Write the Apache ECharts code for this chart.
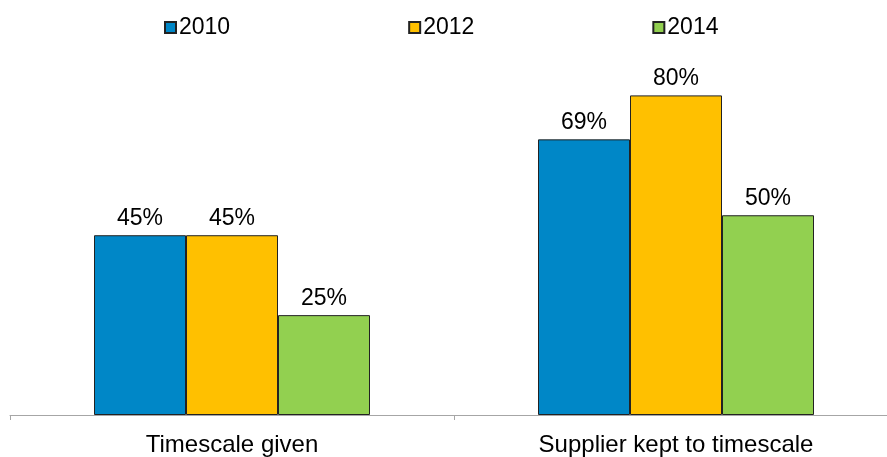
<!DOCTYPE html>
<html>
<head>
<meta charset="utf-8">
<script src="https://cdn.jsdelivr.net/npm/echarts@6/dist/echarts.min.js"></script>
<style>html,body{margin:0;padding:0;background:#fff;overflow:hidden;width:887px;height:457px;}#chart{width:900px;height:457px;}</style>
</head>
<body>
<div id="chart"></div>
<script>
const categories = ['Timescale given', 'Supplier kept to timescale'];
const seriesNames = ['2010', '2012', '2014'];
const values2010 = [45, 69];
const values2012 = [45, 80];
const values2014 = [25, 50];
const colors = ['#0087C7', '#FFC000', '#92D050'];

const font = "'Liberation Sans', Arial, sans-serif";
const dataSets = [values2010, values2012, values2014];

const chart = echarts.init(document.getElementById('chart'), null, {renderer: 'canvas'});
chart.setOption({
  animation: false,
  backgroundColor: '#fff',
  textStyle: {fontFamily: font},
  legend: {
    top: 11,
    left: 159,
    itemWidth: 11,
    itemHeight: 11,
    itemGap: 178,
    icon: 'rect',
    textStyle: {fontSize: 23, color: '#000', fontFamily: font, padding: [0, 0, 0, -2]},
    data: seriesNames
  },
  grid: {left: 10, width: 888, top: 15.5, bottom: 41.5, containLabel: false},
  xAxis: {
    type: 'category',
    data: categories,
    boundaryGap: true,
    axisLine: {lineStyle: {color: '#A6A6A6', width: 1}},
    axisTick: {show: true, length: 5, lineStyle: {color: '#A6A6A6'}},
    axisLabel: {fontSize: 24, color: '#000', margin: 18, fontFamily: font}
  },
  yAxis: {
    type: 'value', min: 0, max: 100, show: false,
    splitLine: {show: false}
  },
  series: seriesNames.map((name, i) => ({
    name: name,
    type: 'bar',
    data: dataSets[i],
    barWidth: 92,
    barGap: '0%',
    itemStyle: {color: colors[i], borderColor: '#222', borderWidth: 1},
    label: {show: true, position: 'top', distance: 5, formatter: '{c}%', fontSize: 23, color: '#000', fontFamily: font}
  }))
});
</script>
</body>
</html>
